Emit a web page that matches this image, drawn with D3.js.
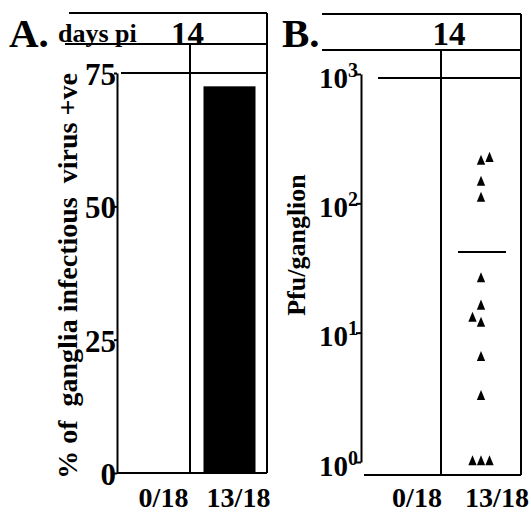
<!DOCTYPE html>
<html>
<head>
<meta charset="utf-8">
<script src="https://cdn.jsdelivr.net/npm/d3@7"></script>
<style>
  body { margin: 0; background: #fff; }
  svg text { font-family: "Liberation Serif", "Times New Roman", serif; font-weight: bold; fill: #000; }
  .ln { stroke: #000; stroke-width: 2; fill: none; }
</style>
</head>
<body>
<svg id="chart" width="531" height="518"></svg>
<script>
// ---- data ----
var groups = ["0/18", "13/18"];
var dayLabel = "14";
// panel A: % of ganglia with infectious virus
var pctPositive = [0, 72.5];
var pctTicks = [0, 25, 50, 75];
// panel B: pfu per ganglion, all in the 13/18 group
var pfuValues = [222, 211, 145, 109, 26, 16, 12.9, 11.8, 6.4, 3.2, 1, 1, 1];
var pfuDodge  = [1, 0, 0, 0, 0, 0, -1, 0, 0, 0, -1, 0, 1];   // side-by-side order of overlapping points
var pfuMean = 42;
var pfuTicks = [1, 10, 100, 1000];

var svg = d3.select("#chart");

function line(g, x1, y1, x2, y2) {
    g.append("line").attr("class", "ln")
        .attr("x1", x1).attr("y1", y1).attr("x2", x2).attr("y2", y2);
}

//=================== PANEL A ====================
var gA = svg.append("g");
var xA = d3.scaleBand().domain(groups).range([117, 267]);
var yA = d3.scaleLinear().domain([0, 75]).range([473, 73]);

gA.append("text").attr("x", 9).attr("y", 47).style("font-size", "41px").text("A.");
gA.append("text").attr("x", 58).attr("y", 42).style("font-size", "26px").text("days pi");
gA.append("text").attr("x", 171).attr("y", 45).style("font-size", "33px").text(dayLabel);

line(gA, 69, 13, 267, 13);
line(gA, 65, 44, 267, 44);
line(gA, 267, 13, 267, yA(0));
line(gA, xA("13/18") - 2, 44, xA("13/18") - 2, yA(0));
line(gA, 121, yA(75), 267, yA(75));
line(gA, 117, yA(0), 267, yA(0));

var axA = gA.append("g").attr("transform", "translate(117,0)")
    .call(d3.axisLeft(yA).tickValues(pctTicks).tickSize(3).tickSizeOuter(0).tickPadding(0));
axA.select(".domain").attr("stroke-width", 2);
axA.selectAll(".tick line").attr("stroke-width", 2);
axA.selectAll(".tick text").style("font-size", "31px").attr("dy", "0.37em")
    .attr("x", -1).style("font-family", null);
axA.attr("font-family", null).attr("font-size", null);

gA.selectAll("rect.bar")
    .data(groups.map(function (g, i) { return { g: g, v: pctPositive[i] }; }))
    .enter().append("rect")
    .attr("class", "bar")
    .attr("x", function (d) { return xA(d.g) + xA.bandwidth() / 2 - 26; })
    .attr("width", 52)
    .attr("y", function (d) { return yA(d.v); })
    .attr("height", function (d) { return yA(0) - yA(d.v); })
    .attr("fill", "#000");

gA.selectAll("text.cat")
    .data(groups).enter().append("text")
    .attr("class", "cat")
    .attr("x", function (d) { return xA(d) + xA.bandwidth() / 2 + 9; })
    .attr("y", 507).attr("text-anchor", "middle")
    .style("font-size", "28px").text(function (d) { return d; });

gA.append("text")
    .attr("transform", "translate(77,276) rotate(-90)")
    .attr("text-anchor", "middle")
    .style("font-size", "28px").style("white-space", "pre")
    .text("% of  ganglia infectious  virus +ve");

//=================== PANEL B ====================
var gB = svg.append("g");
var xB = d3.scaleBand().domain(groups).range([361, 521]);
var yB = d3.scaleLog().domain([1, 1000]).range([462, 74]);

gB.append("text").attr("x", 282).attr("y", 47).style("font-size", "41px").text("B.");
gB.append("text").attr("x", 449).attr("y", 45).attr("text-anchor", "middle")
    .style("font-size", "33px").text(dayLabel);

line(gB, 322, 14, 521, 14);
line(gB, 322, 50, 521, 50);
line(gB, 521, 14, 521, 475);
line(gB, xB("13/18"), 50, xB("13/18"), 475);
line(gB, 378, yB(1000) + 4, 521, yB(1000) + 4);
line(gB, 364, 475, 521, 475);

var axB = gB.append("g").attr("transform", "translate(361,0)")
    .call(d3.axisLeft(yB).tickValues(pfuTicks).tickSize(5).tickSizeOuter(0).tickPadding(0)
        .tickFormat(function () { return ""; }));
axB.select(".domain").attr("stroke-width", 2);
axB.selectAll(".tick line").attr("stroke-width", 2);
axB.attr("font-family", null).attr("font-size", null);
axB.selectAll(".tick text").each(function (d) {
    var t = d3.select(this).attr("x", -3).attr("dy", "0.45em").style("font-size", "29px");
    t.append("tspan").text("10");
    t.append("tspan").attr("dy", "-0.55em").style("font-size", "20px")
        .text(Math.round(Math.log10(d)));
});

gB.selectAll("path.pt")
    .data(pfuValues).enter().append("path")
    .attr("class", "pt")
    .attr("d", d3.symbol().type(d3.symbolTriangle).size(30))
    .attr("transform", function (d, i) {
        var cx = xB("13/18") + xB.bandwidth() / 2 + pfuDodge[i] * 8.5;
        return "translate(" + cx + "," + yB(d) + ") scale(1,1.4)";
    })
    .attr("fill", "#000");

line(gB, xB("13/18") + xB.bandwidth() / 2 - 23, yB(pfuMean), xB("13/18") + xB.bandwidth() / 2 + 25, yB(pfuMean));

gB.selectAll("text.cat")
    .data(groups).enter().append("text")
    .attr("class", "cat")
    .attr("x", function (d) { return xB(d) + xB.bandwidth() / 2 + 16; })
    .attr("y", 507).attr("text-anchor", "middle")
    .style("font-size", "28px").text(function (d) { return d; });

gB.append("text")
    .attr("transform", "translate(305,245) rotate(-90)")
    .attr("text-anchor", "middle")
    .style("font-size", "26px")
    .text("Pfu/ganglion");
</script>
</body>
</html>
